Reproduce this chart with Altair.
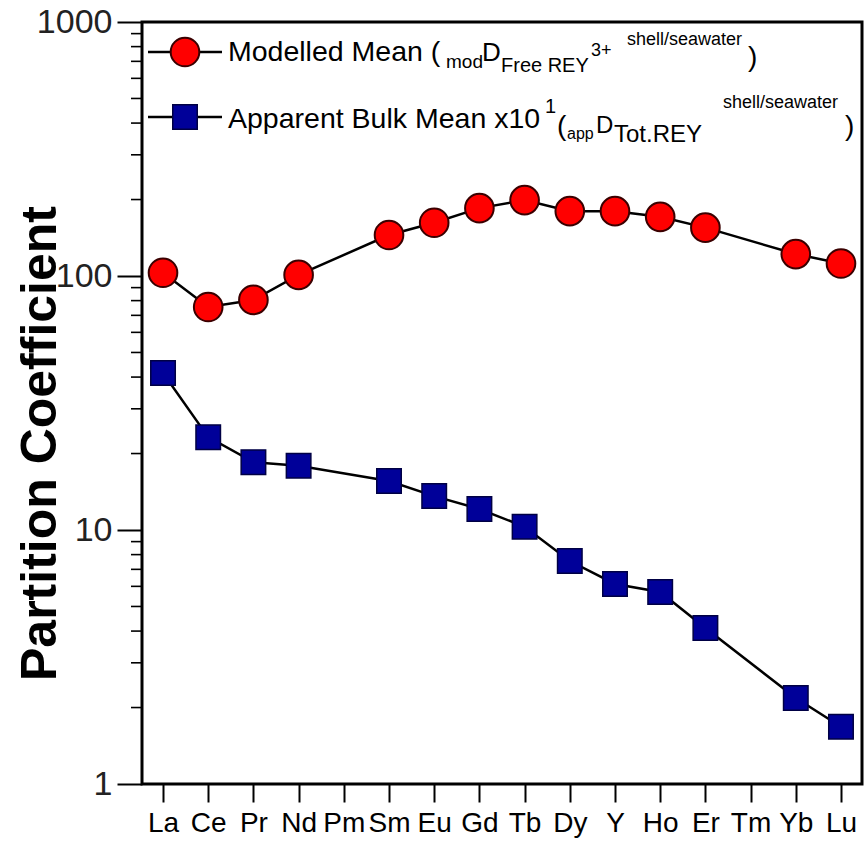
import altair as alt
import pandas as pd

# ---- data ----
elements = ["La", "Ce", "Pr", "Nd", "Pm", "Sm", "Eu", "Gd", "Tb", "Dy", "Y", "Ho", "Er", "Tm", "Yb", "Lu"]
measured = ["La", "Ce", "Pr", "Nd", "Sm", "Eu", "Gd", "Tb", "Dy", "Y", "Ho", "Er", "Yb", "Lu"]
modelled = [103, 75.5, 80.5, 101, 145, 162, 185, 199, 180, 180, 171, 155, 122, 112]
apparent = [41.5, 23.2, 18.5, 17.9, 15.6, 13.6, 12.1, 10.3, 7.55, 6.13, 5.70, 4.11, 2.18, 1.68]
y_major = [1, 10, 100, 1000]
y_minor = [2, 3, 4, 5, 6, 7, 8, 9,
           20, 30, 40, 50, 60, 70, 80, 90,
           200, 300, 400, 500, 600, 700, 800, 900]

FONT = "Liberation Sans"
W, H = 720, 762
L, T = 142, 22

df_mod = pd.DataFrame({"el": measured, "v": modelled, "i": list(range(len(measured)))})
df_app = pd.DataFrame({"el": measured, "v": apparent, "i": list(range(len(measured)))})
df_minor = pd.DataFrame({"v": y_minor})
dummy = pd.DataFrame({"a": [0]})

xenc = alt.X("el:N",
             scale=alt.Scale(type="point", domain=elements, padding=0.465),
             axis=alt.Axis(labelFontSize=28, labelFont=FONT, labelColor="black",
                           tickSize=18, tickWidth=2, tickColor="black",
                           labelPadding=7, domain=False, grid=False, labelAngle=0),
             title=None)
yscale = alt.Scale(type="log", domain=[1, 1000])
yaxis = alt.Axis(values=y_major, format="d", labelFontSize=34, labelFont=FONT,
                 labelColor="#222", tickSize=25, tickWidth=2, tickColor="black",
                 labelPadding=5, domain=False, grid=False,
                 title="Partition Coefficient", titleFontSize=50, titleFont=FONT,
                 titleFontWeight="bold", titleColor="black", titleAngle=270,
                 titleX=-102, titleY=421, titleBaseline="middle", titleAlign="center")
yenc = alt.Y("v:Q", scale=yscale, axis=yaxis)

line_mod = alt.Chart(df_mod).mark_line(color="black", strokeWidth=2.5).encode(x=xenc, y=yenc, order="i:Q")
line_app = alt.Chart(df_app).mark_line(color="black", strokeWidth=2.5).encode(x=xenc, y=yenc, order="i:Q")
pts_mod = alt.Chart(df_mod).mark_circle(size=820, color="#ff0000", stroke="#3a0000",
                                         strokeWidth=2, opacity=1).encode(x=xenc, y=yenc)
pts_app = alt.Chart(df_app).mark_square(size=600, color="#000099", stroke="#000044",
                                         strokeWidth=1.5, opacity=1).encode(x=xenc, y=yenc)
minor = alt.Chart(df_minor).mark_rule(color="black", strokeWidth=1.6).encode(
    y=yenc, x=alt.value(-11), x2=alt.value(0))

# ---- legend (manual, for sub/superscripts) ----
leg = []
for yy in (30, 95):
    leg.append(alt.Chart(dummy).mark_rule(color="black", strokeWidth=2.5).encode(
        x=alt.value(6), x2=alt.value(80), y=alt.value(yy)))
leg.append(alt.Chart(dummy).mark_circle(size=820, color="#ff0000", stroke="#3a0000",
                                         strokeWidth=2, opacity=1).encode(x=alt.value(43), y=alt.value(30)))
leg.append(alt.Chart(dummy).mark_square(size=600, color="#000099", stroke="#000044",
                                         strokeWidth=1.5, opacity=1).encode(x=alt.value(43), y=alt.value(95)))

# (text, abs x, abs baseline y, font size)
pieces = [
    ("Modelled Mean (", 228, 61, 28.5),
    ("mod", 446, 68, 19),
    ("D", 482, 61, 26),
    ("Free REY", 501, 72, 20),
    ("3+", 591, 56, 18),
    ("shell/seawater", 627, 45, 18),
    (")", 748, 66, 28),
    ("Apparent Bulk Mean x10", 228, 128, 28.5),
    ("1", 545, 113, 20),
    ("(", 557, 135, 28),
    ("app", 567, 139, 16),
    ("D", 596, 133, 24),
    ("Tot.REY", 614, 142, 24),
    ("shell/seawater", 723, 108, 18),
    (")", 845, 135, 28),
]
for t, px, py, fs in pieces:
    leg.append(alt.Chart(dummy).mark_text(text=t, fontSize=fs, font=FONT, align="left",
                                           baseline="alphabetic", color="black").encode(
        x=alt.value(px - L), y=alt.value(py - T)))

chart = alt.layer(line_mod, line_app, pts_mod, pts_app, minor, *leg).properties(
    width=W, height=H,
    autosize=alt.AutoSizeParams(type="none"),
    padding={"left": L, "top": T, "right": 3, "bottom": 61},
    background="white",
).configure_view(stroke="black", strokeWidth=3)

chart.save("out.html", embed_options={"renderer": "svg", "actions": False})
